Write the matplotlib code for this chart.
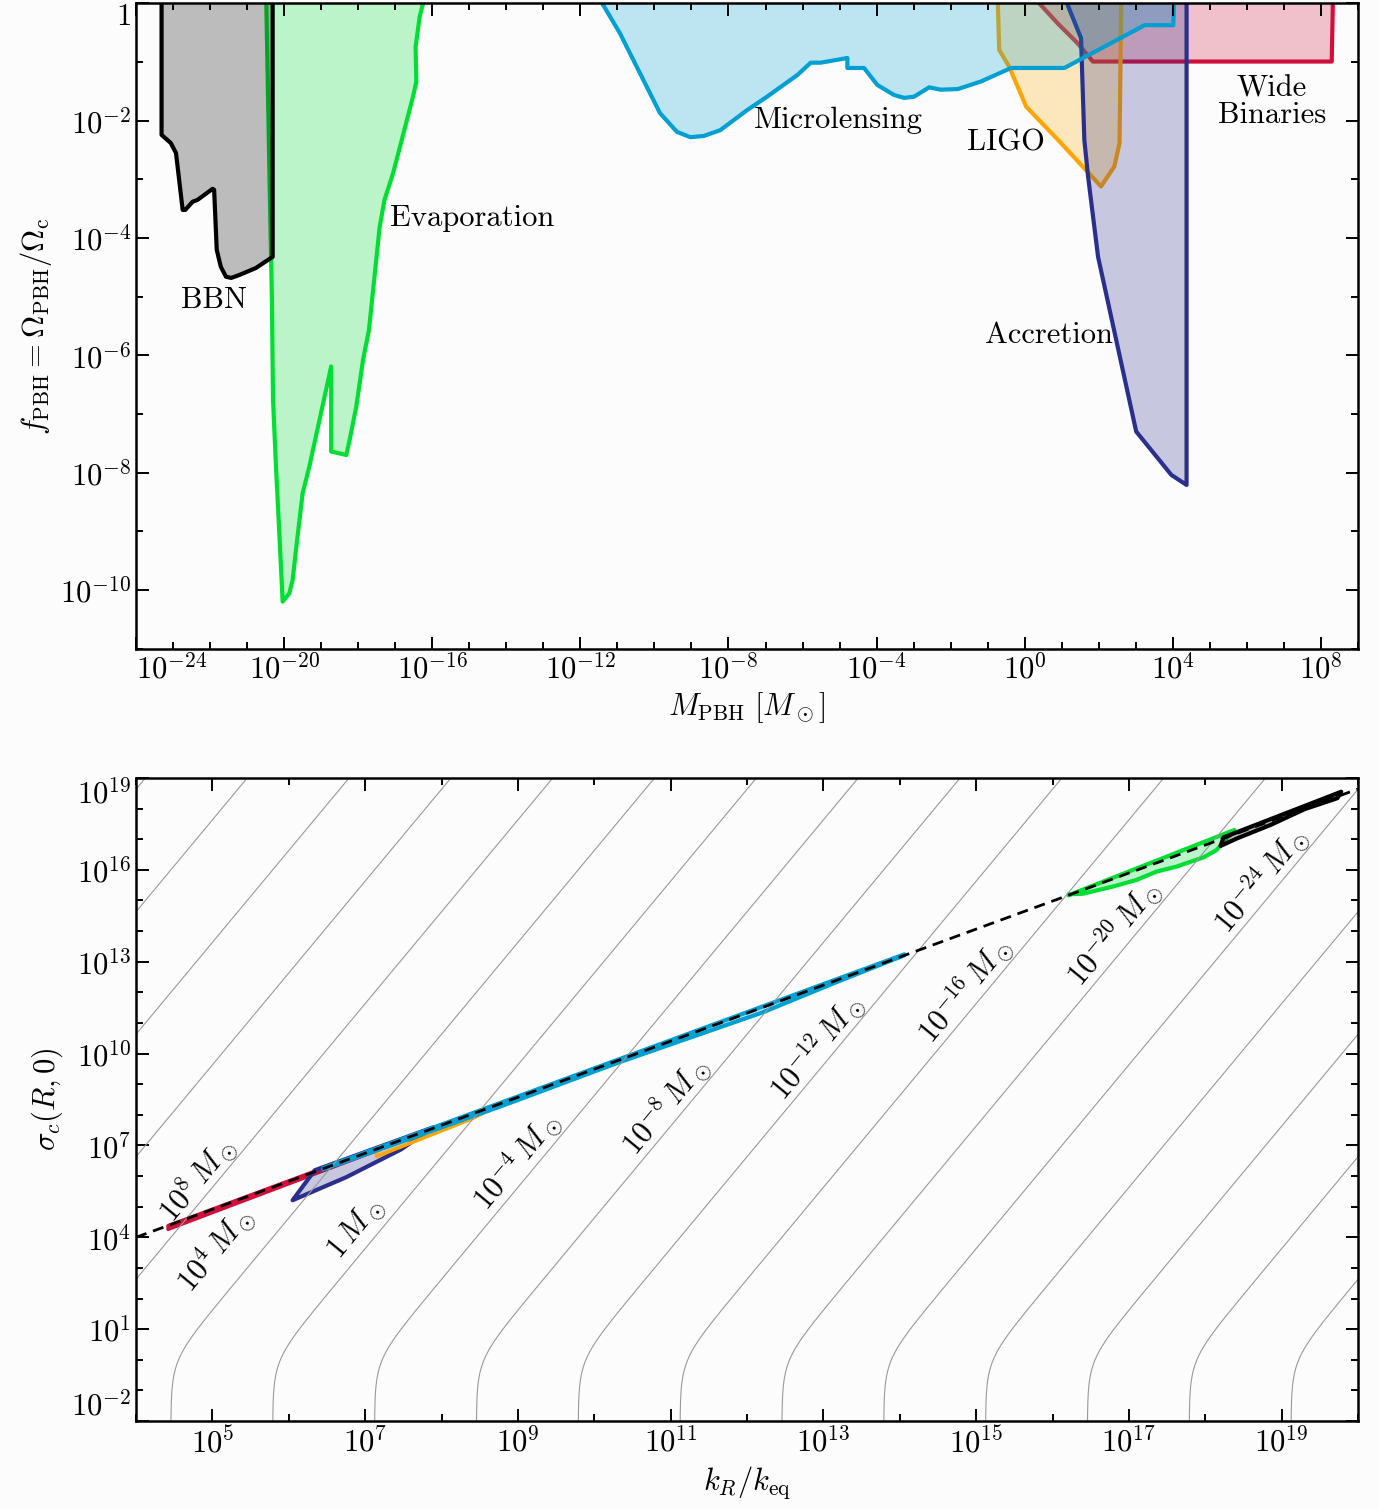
import numpy as np
import matplotlib.pyplot as plt
from matplotlib.ticker import FixedLocator, NullFormatter

plt.rcParams['mathtext.fontset'] = 'cm'
plt.rcParams['font.family'] = ['cmr10', 'DejaVu Serif']
plt.rcParams['axes.formatter.use_mathtext'] = True

# ---- top panel: constraints on f_PBH, log10 values ----
bbn_m = [-23.31, -23.31, -23.06, -22.92, -22.74, -22.67, -22.47, -22.34, -21.93, -21.89,
         -21.82, -21.71, -21.57, -21.43, -21.21, -20.76, -20.31, -20.31]
bbn_f = [0.3, -2.24, -2.38, -2.55, -3.52, -3.52, -3.38, -3.35, -3.16, -3.18,
         -4.20, -4.49, -4.66, -4.68, -4.63, -4.51, -4.32, 0.3]

evap_m = [-20.49, -20.40, -20.33, -20.30, -20.22, -20.13, -20.04, -19.86, -19.77, -19.68,
          -19.50, -19.32, -18.73, -18.73, -18.32, -18.23, -18.05, -17.87, -17.71, -17.42,
          -17.29, -17.06, -16.52, -16.43, -16.45, -16.34, -16.25, -16.20]
evap_f = [0.3, -2.78, -5.06, -6.76, -7.90, -9.03, -10.20, -10.06, -9.83, -9.32,
          -8.35, -7.90, -6.19, -7.64, -7.70, -7.44, -6.87, -6.08, -5.57, -3.81,
          -3.35, -2.90, -1.59, -1.33, -0.74, -0.23, 0.0, 0.3]

micro_m = [-11.69, -10.93, -10.39, -9.85, -9.39, -9.03, -8.67, -8.22, -7.50, -6.96,
           -6.14, -5.78, -5.51, -4.79, -4.79, -4.34, -3.98, -3.53, -3.26, -2.99,
           -2.58, -2.27, -1.81, -1.18, -0.37, 1.07, 3.24, 4.01, 4.05]
micro_f = [0.3, -0.51, -1.19, -1.87, -2.19, -2.28, -2.26, -2.16, -1.82, -1.59,
           -1.22, -1.01, -1.01, -0.93, -1.10, -1.10, -1.39, -1.56, -1.61, -1.59,
           -1.43, -1.47, -1.46, -1.33, -1.10, -1.10, -0.37, -0.37, 0.3]

ligo_m = [-0.74, -0.69, -0.42, 0.04, 0.98, 2.06, 2.42, 2.56, 2.61]
ligo_f = [0.3, -0.79, -1.08, -1.76, -2.38, -3.12, -2.78, -2.38, 0.3]

acc_m = [0.95, 1.52, 1.61, 1.71, 1.98, 3.01, 3.96, 4.37, 4.37]
acc_f = [0.3, -0.59, -2.33, -2.95, -4.32, -7.30, -8.04, -8.21, 0.3]

wb_m = [-0.04, 0.89, 1.43, 1.84, 8.29, 8.33]
wb_f = [0.3, -0.34, -0.68, -0.99, -0.99, 0.3]

# ---- bottom panel: same constraints in (k_R/k_eq, sigma_c) ----
wb_k = [4.42, 6.32, 8.24, 8.24, 6.32, 4.42]
wb_s = [4.26, 6.05, 7.85, 7.88, 6.14, 4.38]
acc_k = [6.05, 6.34, 7.89, 7.47, 6.75]
acc_s = [5.21, 6.19, 7.59, 6.87, 5.96]
ligo_k = [7.15, 8.38, 8.78, 8.78, 7.15]
ligo_s = [6.64, 7.85, 8.34, 8.37, 6.88]
micro_k = [6.45, 8.78, 10.32, 12.20, 13.16, 14.06, 14.06, 6.45]
micro_s = [6.22, 8.28, 9.71, 11.34, 12.32, 13.21, 13.24, 6.26]
evap_k = [16.21, 16.40, 16.80, 17.10, 17.36, 17.63, 17.98, 18.15, 18.24, 18.38, 16.21]
evap_s = [15.20, 15.22, 15.46, 15.67, 15.94, 16.11, 16.41, 16.65, 16.92, 17.30, 15.17]
bbn_k = [18.20, 18.42, 18.86, 19.30, 19.73, 19.78, 18.24]
bbn_s = [16.78, 17.03, 17.47, 17.98, 18.34, 18.55, 17.06]

dash_k = [4.0, 20.0]
dash_s = [4.0, 18.64]

# iso-mass guide lines (log10 M / M_sun), M = A k^-3 (sigma + 1)
mass_lines = list(range(24, -41, -4))
log_A = 17.37
mass_labels = [8, 4, 0, -4, -8, -12, -16, -20, -24]
label_k = [4.80, 5.04, 6.88, 8.98, 10.93, 12.92, 14.85, 16.80, 18.73]
label_s = [5.89, 3.61, 4.30, 6.48, 8.30, 10.23, 12.09, 13.94, 15.67]

names = ['BBN', 'Evaporation', 'Microlensing', 'LIGO', 'Wide\nBinaries', 'Accretion']
name_m = [-21.89, -14.93, -5.03, -0.51, 6.67, 0.66]
name_f = [-5.06, -3.66, -1.99, -2.38, -1.68, -5.65]

c_bbn = 'black'
c_evap = '#00dd33'
c_micro = '#009fd1'
c_ligo = '#ffa500'
c_acc = '#2b2f8c'
c_wb = '#d0103a'

fig = plt.figure(figsize=(13.78, 15.10), dpi=100, facecolor='#fcfcfc')
ax1 = fig.add_axes([0.0987, 0.5705, 0.8868, 0.4272])
ax2 = fig.add_axes([0.0987, 0.0589, 0.8868, 0.4259])


def lg(v):
    return 10.0 ** np.array(v)


def region(ax, x, y, c, lw=3):
    ax.fill(lg(x), lg(y), facecolor=c, alpha=0.25, edgecolor='none')
    ax.fill(lg(x), lg(y), facecolor='none', edgecolor=c, lw=lw, joinstyle='round')


# top panel
region(ax1, wb_m, wb_f, c_wb)
region(ax1, ligo_m, ligo_f, c_ligo)
region(ax1, acc_m, acc_f, c_acc)
region(ax1, micro_m, micro_f, c_micro)
region(ax1, evap_m, evap_f, c_evap)
region(ax1, bbn_m, bbn_f, c_bbn)

for t, m, f in zip(names, name_m, name_f):
    ax1.text(10.0 ** m, 10.0 ** f, t, fontsize=22, ha='center', va='center',
             linespacing=0.95)

ax1.set_xscale('log')
ax1.set_yscale('log')
ax1.set_xlim(1e-24, 1e9)
ax1.set_ylim(1e-11, 1)
xt = np.arange(-24, 9, 4)
ax1.set_xticks(10.0 ** xt, [r'$10^{%d}$' % e for e in xt])
ax1.xaxis.set_minor_locator(FixedLocator(10.0 ** np.arange(-24, 10)))
yt = np.arange(-10, 1, 2)
ax1.set_yticks(10.0 ** yt, [r'$1$' if e == 0 else r'$10^{%d}$' % e for e in yt])
ax1.yaxis.set_minor_locator(FixedLocator(10.0 ** np.arange(-11, 1)))
ax1.set_xlabel(r'$M_{\rm PBH}\ [M_\odot]$', fontsize=22)
ax1.set_ylabel(r'$f_{\rm PBH} = \Omega_{\rm PBH}/\Omega_{\rm c}$', fontsize=22)
ax1.get_xticklabels()[0].set_horizontalalignment('left')
ax1.get_yticklabels()[-1].set_verticalalignment('top')

# bottom panel
sig = np.logspace(-2.5, 19.5, 500)
for lm in mass_lines:
    kk = 10.0 ** ((log_A + np.log10(sig + 1.0) - lm) / 3.0)
    ax2.plot(kk, sig, color='#999999', lw=0.8)

for lm, k, s in zip(mass_labels, label_k, label_s):
    t = r'$1\,M_\odot$' if lm == 0 else r'$10^{%d}\,M_\odot$' % lm
    ax2.text(10.0 ** k, 10.0 ** s, t, fontsize=22, rotation=50.4,
             ha='center', va='center', rotation_mode='anchor')

region(ax2, wb_k, wb_s, c_wb, lw=2.5)
region(ax2, acc_k, acc_s, c_acc, lw=3)
region(ax2, ligo_k, ligo_s, c_ligo, lw=2.5)
region(ax2, micro_k, micro_s, c_micro, lw=3)
region(ax2, evap_k, evap_s, c_evap, lw=3)
region(ax2, bbn_k, bbn_s, c_bbn, lw=3)
ax2.plot(lg(dash_k), lg(dash_s), color='black', lw=2, ls=(0, (4, 2.5)))

ax2.set_xscale('log')
ax2.set_yscale('log')
ax2.set_xlim(1e4, 1e20)
ax2.set_ylim(1e-2, 1e19)
xt = np.arange(5, 20, 2)
ax2.set_xticks(10.0 ** xt, [r'$10^{%d}$' % e for e in xt])
ax2.xaxis.set_minor_locator(FixedLocator(10.0 ** np.arange(4, 21)))
yt = np.arange(-2, 20, 3)
ax2.set_yticks(10.0 ** yt, [r'$10^{%d}$' % e for e in yt])
ax2.yaxis.set_minor_locator(FixedLocator(10.0 ** np.arange(-2, 20)))
ax2.set_xlabel(r'$k_R/k_{\rm eq}$', fontsize=22)
ax2.set_ylabel(r'$\sigma_c(R,0)$', fontsize=22)
ax2.get_yticklabels()[0].set_verticalalignment('bottom')
ax2.get_yticklabels()[-1].set_verticalalignment('top')

for ax in (ax1, ax2):
    ax.set_facecolor('#fcfcfc')
    ax.xaxis.set_minor_formatter(NullFormatter())
    ax.yaxis.set_minor_formatter(NullFormatter())
    ax.tick_params(which='both', direction='in', top=True, right=True,
                   labelsize=22, width=1.4)
    ax.tick_params(which='major', length=9)
    ax.tick_params(which='minor', length=5)
    for sp in ax.spines.values():
        sp.set_linewidth(1.8)

fig.savefig('out.png', dpi=100, facecolor=fig.get_facecolor())
